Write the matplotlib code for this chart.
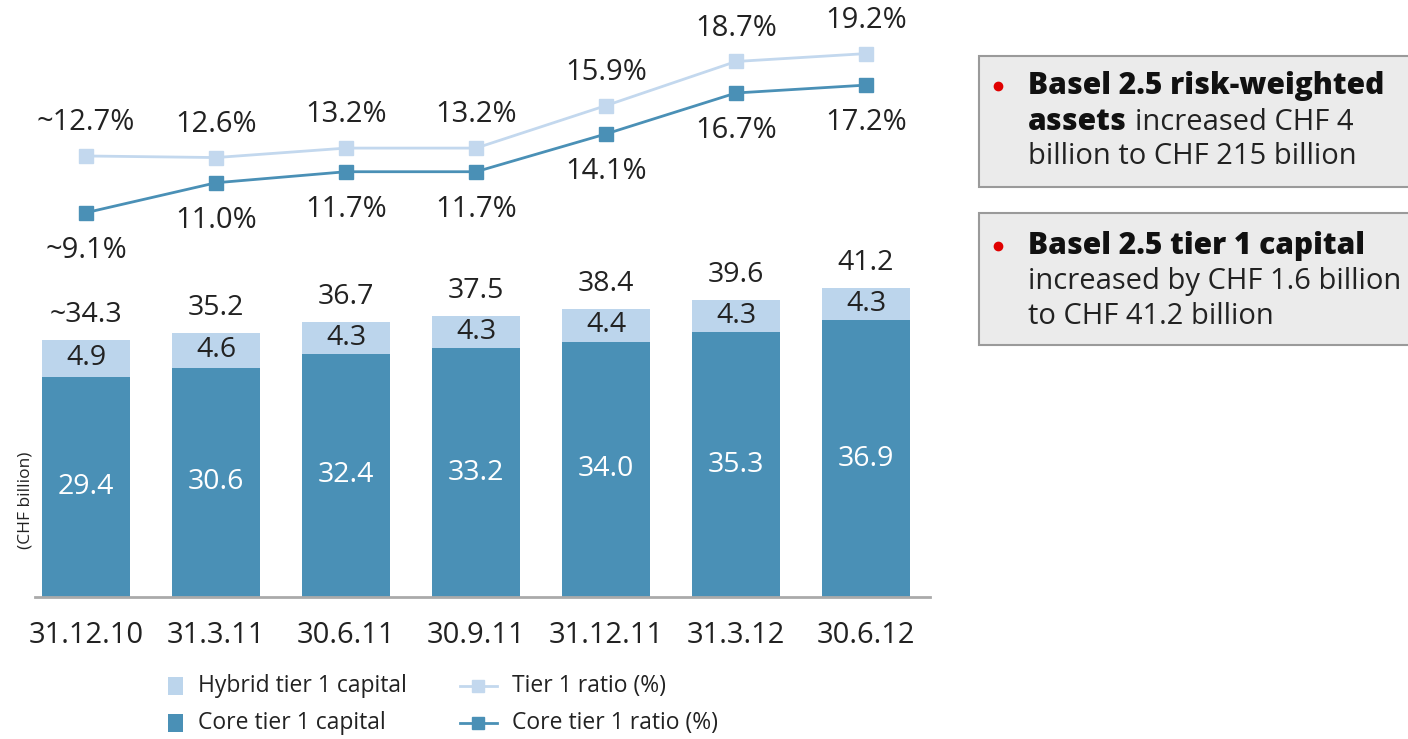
import matplotlib.pyplot as plt
from matplotlib.patches import Rectangle
from matplotlib.lines import Line2D

plt.rcParams['font.family'] = ['Open Sans', 'DejaVu Sans']

# data
dates = ['31.12.10', '31.3.11', '30.6.11', '30.9.11', '31.12.11', '31.3.12', '30.6.12']
core_t1 = [29.4, 30.6, 32.4, 33.2, 34.0, 35.3, 36.9]
hybrid_t1 = [4.9, 4.6, 4.3, 4.3, 4.4, 4.3, 4.3]
total_t1 = [34.3, 35.2, 36.7, 37.5, 38.4, 39.6, 41.2]
total_labels = ['~34.3', '35.2', '36.7', '37.5', '38.4', '39.6', '41.2']
tier1_ratio = [12.7, 12.6, 13.2, 13.2, 15.9, 18.7, 19.2]
core_ratio = [9.1, 11.0, 11.7, 11.7, 14.1, 16.7, 17.2]
tier1_labels = ['~12.7%', '12.6%', '13.2%', '13.2%', '15.9%', '18.7%', '19.2%']
core_labels = ['~9.1%', '11.0%', '11.7%', '11.7%', '14.1%', '16.7%', '17.2%']
legend_labels = ['Hybrid tier 1 capital', 'Core tier 1 capital', 'Tier 1 ratio (%)', 'Core tier 1 ratio (%)']

dark = '#4a90b6'
light = '#bcd5ec'
line_light = '#c3d8ee'
txt = '#222222'

W, H = 1408, 739
fig = plt.figure(figsize=(W / 100, H / 100), dpi=100)

def fx(px):
    return px / W

def fy(py):
    return 1 - py / H

# axes placed in pixels
left, right, base = 35, 930, 597
ax = fig.add_axes([left / W, (H - base) / H, (right - left) / W, base / H])
x = list(range(len(dates)))
ax.set_xlim((left - 86) / 130, (right - 86) / 130)
ax.set_ylim(0, base / 7.5)

ax.bar(x, core_t1, width=0.68, color=dark, zorder=2)
ax.bar(x, hybrid_t1, width=0.68, bottom=core_t1, color=light, zorder=2)

vfs = 20.5
for i in x:
    ax.text(i, core_t1[i] / 2, f'{core_t1[i]:.1f}', ha='center', va='center',
            color='white', fontsize=vfs)
    ax.text(i, core_t1[i] + hybrid_t1[i] / 2, f'{hybrid_t1[i]:.1f}', ha='center',
            va='center', color=txt, fontsize=vfs)
    ax.annotate(total_labels[i], (i, total_t1[i]), xytext=(0, 18), textcoords='offset points',
                ha='center', va='center', color=txt, fontsize=vfs)

for s in ['top', 'right', 'left']:
    ax.spines[s].set_visible(False)
ax.spines['bottom'].set_color('#aaaaaa')
ax.spines['bottom'].set_linewidth(2)
ax.set_yticks([])
ax.set_xticks(x)
ax.set_xticklabels(dates, fontsize=21, color=txt)
ax.tick_params(axis='x', length=0, pad=17)
ax.set_facecolor('none')

# ratio lines on a second scale
ax2 = ax.twinx()
ax2.set_ylim(-(base - 356) / 15.75, 356 / 15.75)
ax2.axis('off')
ax2.plot(x, tier1_ratio, color=line_light, lw=2, marker='s', ms=10, zorder=3)
ax2.plot(x, core_ratio, color=dark, lw=2, marker='s', ms=10, zorder=3)
for i in x:
    ax2.annotate(tier1_labels[i], (i, tier1_ratio[i]), xytext=(0, 24), textcoords='offset points',
                 ha='center', va='center', color=txt, fontsize=21)
    ax2.annotate(core_labels[i], (i, core_ratio[i]), xytext=(0, -27), textcoords='offset points',
                 ha='center', va='center', color=txt, fontsize=21)

fig.text(fx(25), fy(500), '(CHF billion)', rotation=90, ha='center', va='center',
         fontsize=12.5, color=txt)

# legend, drawn by hand
lfs = 16.5
for k, (col, yy) in enumerate([(light, 686), (dark, 723)]):
    fig.add_artist(Rectangle((fx(168), fy(yy + 9)), 15 / W, 18 / H, transform=fig.transFigure,
                             facecolor=col, edgecolor='none'))
    fig.text(fx(198), fy(yy), legend_labels[k], fontsize=lfs, va='center', color=txt)
for k, (col, yy) in enumerate([(line_light, 686), (dark, 723)]):
    fig.add_artist(Line2D([fx(460), fx(497)], [fy(yy), fy(yy)], transform=fig.transFigure,
                          color=col, lw=2))
    fig.add_artist(Line2D([fx(478)], [fy(yy)], transform=fig.transFigure, color=col,
                          marker='s', ms=9, lw=0))
    fig.text(fx(512), fy(yy), legend_labels[k + 2], fontsize=lfs, va='center', color=txt)

# text boxes on the right
for top, bot in [(56, 187), (213, 345)]:
    fig.add_artist(Rectangle((fx(979), fy(bot)), (W - 975) / W, (bot - top) / H,
                             transform=fig.transFigure, facecolor='#ebebeb',
                             edgecolor='#9a9a9a', lw=1.5))

tx = fx(1028)
fs = 21
bfs = 21.5
for yb in [86, 246]:
    fig.add_artist(Line2D([fx(998)], [fy(yb)], transform=fig.transFigure, color='#e00000',
                          marker='o', ms=6, lw=0))

fig.text(tx, fy(86), 'Basel 2.5 risk-weighted', fontsize=bfs, weight=800, va='center', color='#111111')
b = fig.text(tx, fy(122), 'assets', fontsize=bfs, weight=800, va='center', color='#111111')
fig.text(tx, fy(157), 'billion to CHF 215 billion', fontsize=fs, va='center', color=txt)

fig.text(tx, fy(246), 'Basel 2.5 tier 1 capital', fontsize=bfs, weight=800, va='center', color='#111111')
fig.text(tx, fy(281), 'increased by CHF 1.6 billion', fontsize=fs, va='center', color=txt)
fig.text(tx, fy(316), 'to CHF 41.2 billion', fontsize=fs, va='center', color=txt)

# place the regular part after the bold word
fig.canvas.draw()
bb = b.get_window_extent()
fig.text(bb.x1 / W + fx(8), fy(122), 'increased CHF 4', fontsize=fs, va='center', color=txt)

fig.savefig('out.png', dpi=100)
